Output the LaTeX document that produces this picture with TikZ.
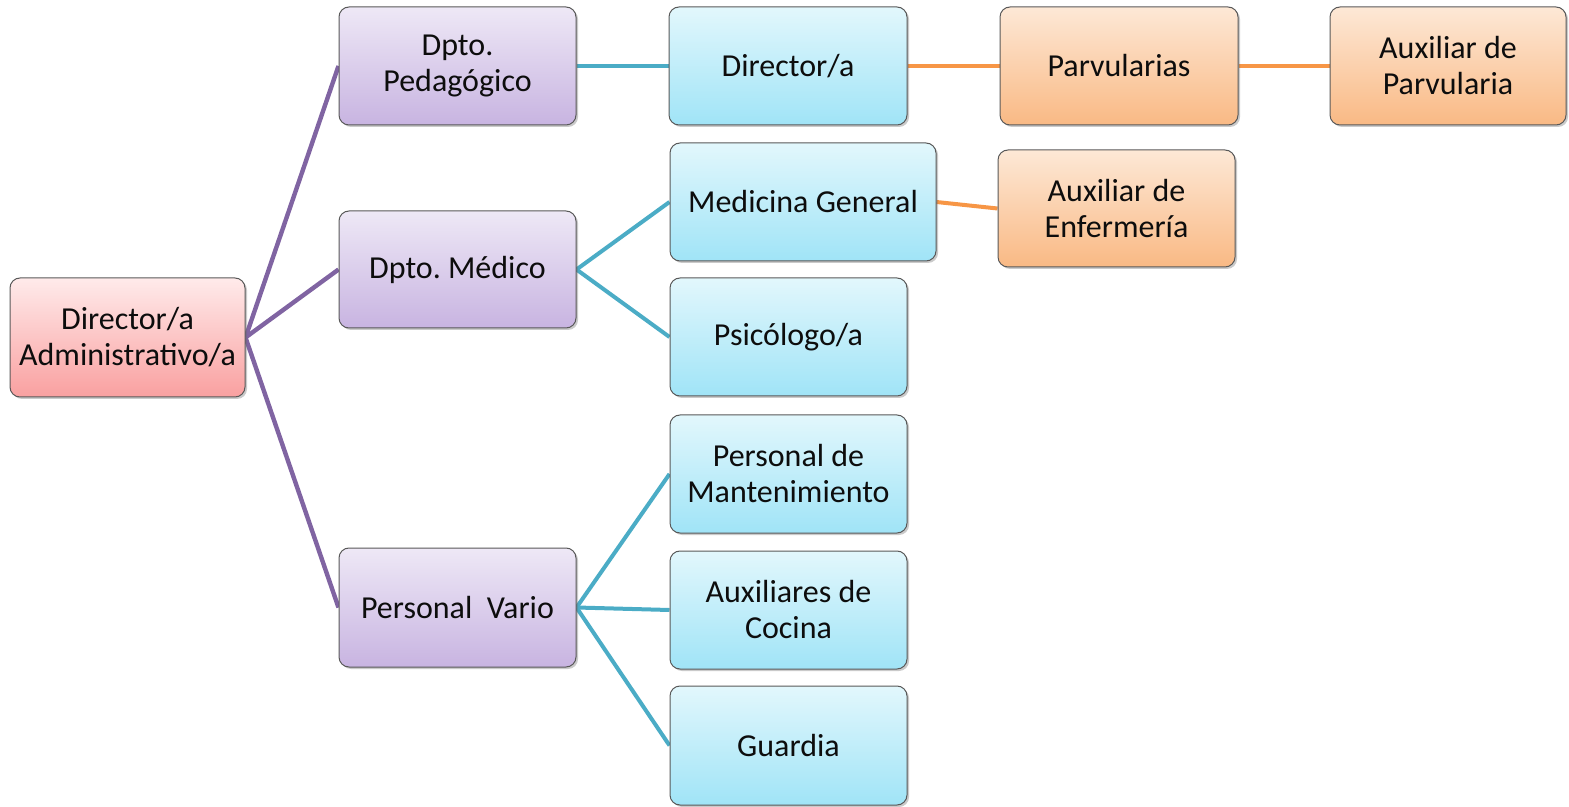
\documentclass[tikz,border=0pt]{standalone}
\usepackage{fontspec}
\setmainfont{Carlito}
\usetikzlibrary{shadows,backgrounds}
\definecolor{linePur}{HTML}{8064A2}
\definecolor{lineBlu}{HTML}{4BACC6}
\definecolor{lineOra}{HTML}{F79646}
\tikzset{
  box/.style={rounded corners=5pt, draw=black!65, line width=0.5pt, align=center,
    font=\fontsize{16}{18}\selectfont\frenchspacing, text=black!95, inner sep=2pt,
    drop shadow={shadow xshift=1pt, shadow yshift=-1pt, opacity=0.35, fill=black!60}},
  rootbox/.style={box, top color=red!8, bottom color={rgb,255:red,249;green,160;blue,160}},
  purbox/.style={box, top color={rgb,255:red,238;green,232;blue,246}, bottom color={rgb,255:red,200;green,180;blue,225}},
  blubox/.style={box, top color={rgb,255:red,226;green,247;blue,252}, bottom color={rgb,255:red,160;green,228;blue,247}},
  orabox/.style={box, top color={rgb,255:red,253;green,232;blue,214}, bottom color={rgb,255:red,249;green,185;blue,132}},
  plink/.style={draw=linePur, line width=2.2pt},
  blink/.style={draw=lineBlu, line width=2pt},
  olink/.style={draw=lineOra, line width=2pt},
}
\begin{document}
\begin{tikzpicture}[x=0.5pt,y=-0.5pt]
\useasboundingbox (0,0) rectangle (1569,807);
\node[rootbox, minimum width=117.5pt, minimum height=59.5pt] (root) at (127.5,337.5) {Director/a\\Administrativo/a};
\node[purbox, minimum width=118.5pt, minimum height=59pt] (ped) at (457.5,66) {Dpto.\\Pedagógico};
\node[purbox, minimum width=118.5pt, minimum height=58.5pt] (med) at (457.5,269.5) {Dpto. Médico};
\node[purbox, minimum width=118.5pt, minimum height=59.5pt] (var) at (457.5,607.5) {Personal\ \ Vario};
\node[blubox, minimum width=119pt, minimum height=59pt] (dir) at (788,66) {Director/a};
\node[blubox, minimum width=133pt, minimum height=59pt] (mg) at (803,202) {Medicina General};
\node[blubox, minimum width=118.5pt, minimum height=59pt] (psi) at (788.5,337) {Psicólogo/a};
\node[blubox, minimum width=118.5pt, minimum height=59pt] (man) at (788.5,474) {Personal de\\Mantenimiento};
\node[blubox, minimum width=118.5pt, minimum height=59pt] (coc) at (788.5,610) {Auxiliares de\\Cocina};
\node[blubox, minimum width=118.5pt, minimum height=59.5pt] (gua) at (788.5,745.5) {Guardia};
\node[orabox, minimum width=119pt, minimum height=59pt] (par) at (1119,66) {Parvularias};
\node[orabox, minimum width=118pt, minimum height=59pt] (axp) at (1448,66) {Auxiliar de\\Parvularia};
\node[orabox, minimum width=118.5pt, minimum height=58.5pt] (axe) at (1116.5,208.5) {Auxiliar de\\Enfermería};
\begin{scope}[on background layer]
\draw[plink] (root.east) -- (ped.west);
\draw[plink] (root.east) -- (med.west);
\draw[plink] (root.east) -- (var.west);
\draw[blink] (ped.east) -- (dir.west);
\draw[blink] (med.east) -- (mg.west);
\draw[blink] (med.east) -- (psi.west);
\draw[blink] (var.east) -- (man.west);
\draw[blink] (var.east) -- (coc.west);
\draw[blink] (var.east) -- (gua.west);
\draw[olink] (dir.east) -- (par.west);
\draw[olink] (par.east) -- (axp.west);
\draw[olink] (mg.east) -- (axe.west);
\end{scope}
\end{tikzpicture}
\end{document}
